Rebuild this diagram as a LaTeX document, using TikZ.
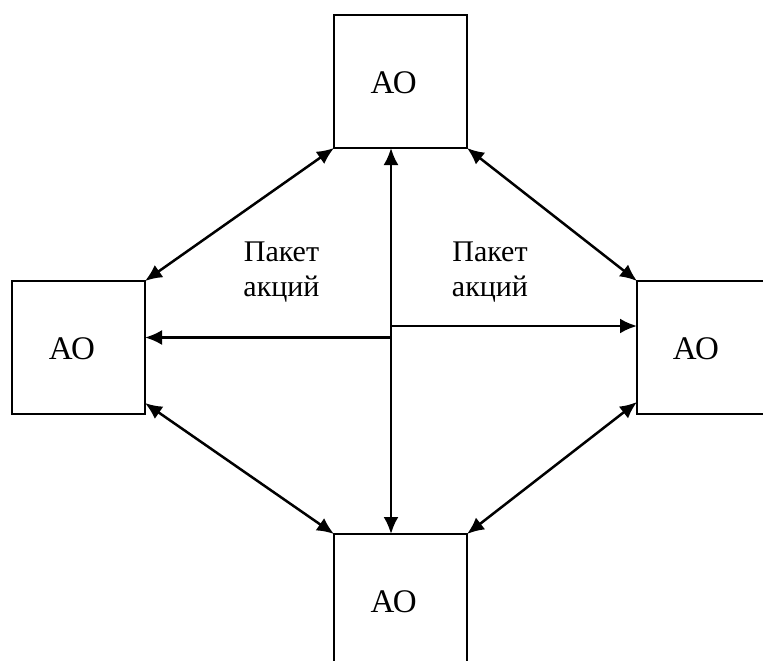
\documentclass[tikz,border=0pt]{standalone}
\usepackage{fontspec}
\setmainfont{Liberation Serif}
\usetikzlibrary{arrows.meta}
\begin{document}
\begin{tikzpicture}[x=1pt,y=-1pt,
 box/.style={draw,line width=2.2pt,minimum width=133pt,minimum height=133pt,inner sep=0pt,outer sep=0pt},
 lbl/.style={font=\fontsize{33}{36}\selectfont,inner sep=0pt,anchor=base},
 pk/.style={font=\fontsize{30}{35}\selectfont,inner sep=0pt,anchor=base},
 arr/.style={line width=2.5pt,{Latex[length=17pt,width=15pt]}-{Latex[length=17pt,width=15pt]}},
 one/.style={line width=2.5pt,-{Latex[length=17pt,width=15pt]}}]
\useasboundingbox (0,0) rectangle (763,661);
\clip (0,0) rectangle (763,661);
\node[box] (T) at (400.5,81.5) {};
\node[box] (L) at (78.5,347.5) {};
\node[box] (R) at (703.5,347.5) {};
\node[box] (B) at (400.5,600.5) {};
\node[lbl] (tT) at (393.7,93) {АО};
\node[lbl] (tL) at (72,359) {АО};
\node[lbl] (tR) at (696,359) {АО};
\node[lbl] (tB) at (393.7,612) {АО};
\node[pk] (p1a) at (281.5,261) {Пакет};
\node[pk] (p1b) at (281.5,296.5) {акций};
\node[pk] (p2a) at (490,261) {Пакет};
\node[pk] (p2b) at (490,296.5) {акций};
\coordinate (Lb) at ([yshift=11pt]L.south east);
\coordinate (Rb) at ([yshift=12pt]R.south west);
\coordinate (Vt) at ([xshift=-9.5pt]T.south);
\coordinate (Vb) at ([xshift=-9.5pt]B.north);
\coordinate (c1) at (391,337.5);
\coordinate (c2) at (391,326);
\draw[arr] (T.south west) -- (L.north east);
\draw[arr] (T.south east) -- (R.north west);
\draw[arr] (Lb) -- (B.north west);
\draw[arr] (Rb) -- (B.north east);
\draw[arr] (Vt) -- (Vb);
\draw[one] (c1) -- (c1 -| L.east);
\draw[one] (c2) -- (c2 -| R.west);
\end{tikzpicture}
\end{document}
